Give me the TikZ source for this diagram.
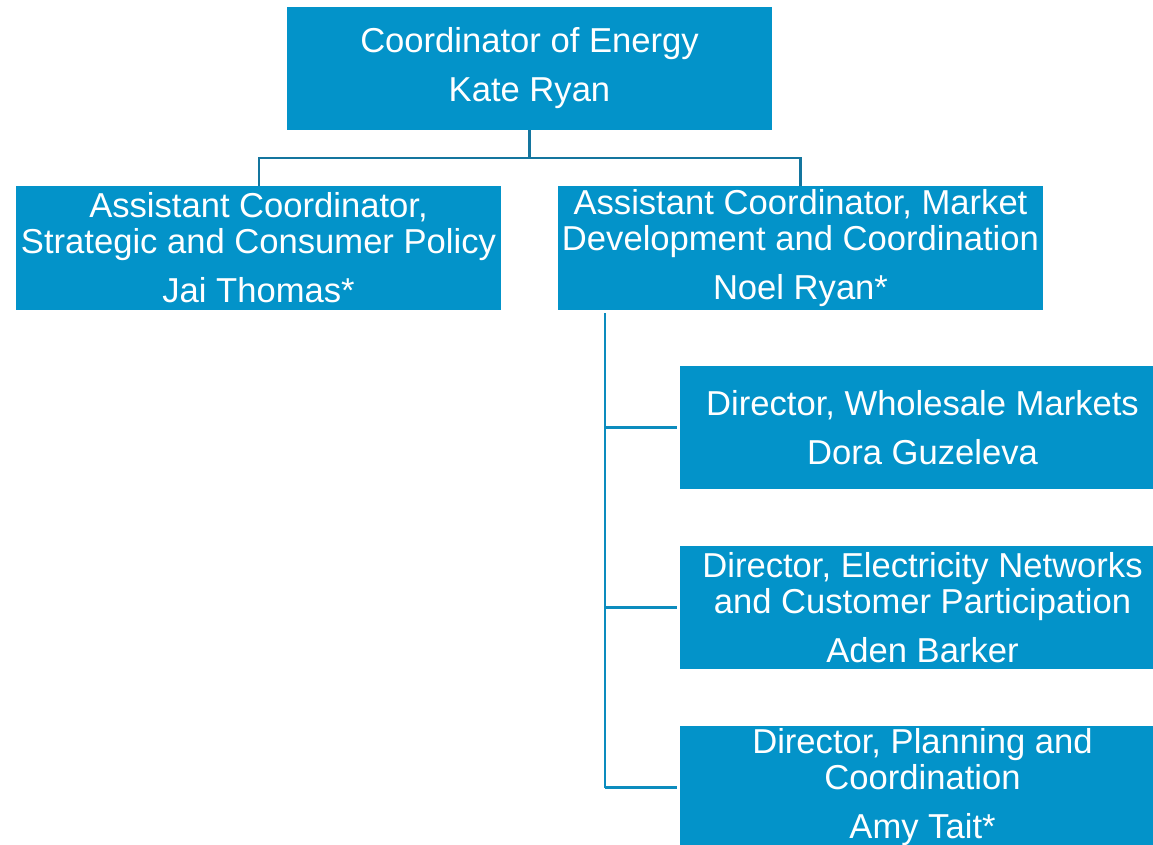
\documentclass[tikz,border=0pt]{standalone}
\usepackage{fontspec}
\setmainfont{Liberation Sans}
\definecolor{boxblue}{RGB}{3,147,201}
\definecolor{topline}{RGB}{20,117,158}
\definecolor{sideline}{RGB}{12,140,190}
\begin{document}
\begin{tikzpicture}[x=1pt,y=-1pt,
  orgbox/.style={fill=boxblue, draw=none, minimum width=485pt, minimum height=123pt,
    inner sep=0pt, text=white, align=center, font=\fontsize{34.6}{36}\selectfont},
  topconn/.style={draw=topline, line width=2.5pt},
  sideconn/.style={draw=sideline, line width=2.5pt}]
\useasboundingbox (0,0) rectangle (1153,845);
\clip (0,0) rectangle (1153,845);
\node[orgbox] (ce) at (529.5,68.5) {\raisebox{-1.5pt}{}Coordinator of Energy\\[13pt]Kate Ryan};
\node[orgbox] (jt) at (258.5,248) {Assistant Coordinator,\\Strategic and Consumer Policy\\[13pt]Jai Thomas*};
\node[orgbox] (nr) at (800.5,248) {Assistant Coordinator, Market\\Development and Coordination\\[13pt]Noel Ryan*};
\node[orgbox] (dg) at (922.5,427.5) {Director, Wholesale Markets\\[13pt]Dora Guzeleva};
\node[orgbox] (ab) at (922.5,607.5) {Director, Electricity Networks\\and Customer Participation\\[13pt]Aden Barker};
\node[orgbox] (at) at (922.5,787.5) {Director, Planning and\\Coordination\\[13pt]Amy Tait*};
\coordinate (mid) at (529.5,158);
\draw[topconn] (ce.south) -- (mid);
\draw[topconn] (mid) -| (jt.north -| 259,0);
\draw[topconn] (mid) -| (nr.north);
\coordinate (vtop) at (605,313);
\coordinate (vbot) at (605,787.5);
\draw[sideconn] (vtop) -- (vbot);
\draw[sideconn] (vtop |- dg.west) -- ([xshift=-3pt]dg.west);
\draw[sideconn] (vtop |- ab.west) -- ([xshift=-3pt]ab.west);
\draw[sideconn] (vbot) -- ([xshift=-3pt]at.west);
\end{tikzpicture}
\end{document}
